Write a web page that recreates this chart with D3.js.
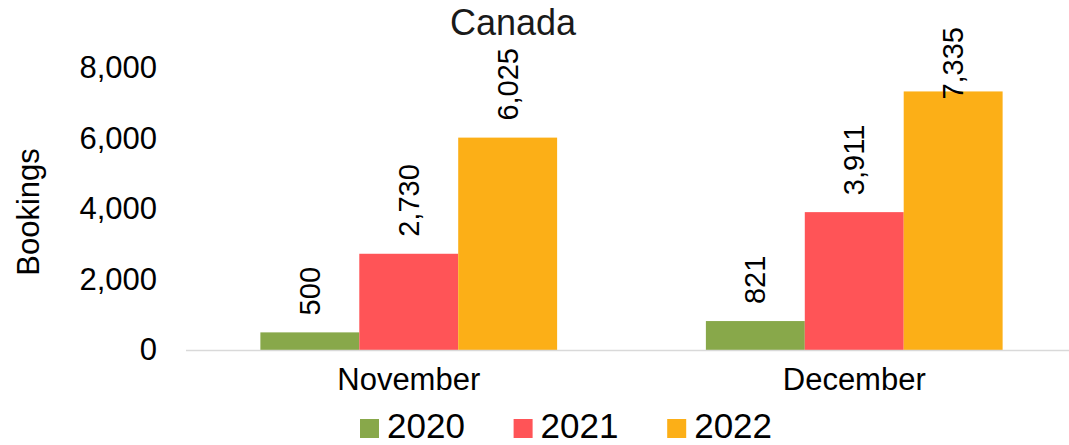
<!DOCTYPE html>
<html>
<head>
<meta charset="utf-8">
<script src="https://cdn.jsdelivr.net/npm/d3@7"></script>
<style>
  body { margin: 0; background: #fff; }
  svg { display: block; font-family: "Liberation Sans", Arial, sans-serif; }
</style>
</head>
<body>
<div id="chart"></div>
<script>
"use strict";

// Data
// ----

var months = ["November", "December"];
var years  = ["2020", "2021", "2022"];
var bookings2020 = [500, 821];
var bookings2021 = [2730, 3911];
var bookings2022 = [6025, 7335];
var yTicks = [0, 2000, 4000, 6000, 8000];
var colors = ["#88A84A", "#FF5457", "#FCAF17"];

var series = [bookings2020, bookings2021, bookings2022];


// Box sizing

var W = 1069, H = 445;
var plotLeft = 186, plotRight = 1077, plotTop = 68, plotBottom = 350, labelTop = 27;

var svg = d3.select("#chart").append("svg")
    .attr("width", W)
    .attr("height", H);


// Scales

var x0 = d3.scaleBand().domain(months).range([plotLeft, plotRight]);
var x1 = d3.scaleBand().domain(years).range([0, x0.bandwidth()]).paddingOuter(0.752);
var y  = d3.scaleLinear().domain([0, 8000]).range([plotBottom, plotTop]);


// Title

svg.append("text")
    .attr("x", 513)
    .attr("y", 35)
    .attr("text-anchor", "middle")
    .style("font-size", "36px")
    .style("fill", "#1a1a1a")
    .text("Canada");


// Y axis

var yAxis = svg.append("g")
    .attr("transform", "translate(" + plotLeft + ",0)")
    .call(d3.axisLeft(y).tickValues(yTicks).tickSize(0).tickPadding(29)
      .tickFormat(d3.format(",")));
yAxis.select(".domain").remove();
yAxis.selectAll("text")
    .style("font-size", "31px")
    .style("fill", "#000")
    .style("font-family", "'Liberation Sans', Arial, sans-serif");

svg.append("text")
    .attr("transform", "translate(28," + ((plotTop + plotBottom) / 2 + 3) + ") rotate(-90)")
    .attr("text-anchor", "middle")
    .attr("dominant-baseline", "central")
    .style("font-size", "31px")
    .text("Bookings");


// Bars

var groups = svg.selectAll(".month")
    .data(months)
    .enter().append("g")
    .attr("transform", function(d) { return "translate(" + x0(d) + ",0)"; });

groups.each(function(m, i) {
  var g = d3.select(this);
  years.forEach(function(yr, k) {
    var v = series[k][i];
    g.append("rect")
        .attr("x", x1(yr))
        .attr("y", y(v))
        .attr("width", x1.bandwidth())
        .attr("height", plotBottom - y(v))
        .style("fill", colors[k]);
  });
});


// X axis line

svg.append("line")
    .attr("x1", plotLeft).attr("x2", W)
    .attr("y1", plotBottom + 0.5).attr("y2", plotBottom + 0.5)
    .style("stroke", "#d9d9d9")
    .style("stroke-width", 1.5);

svg.selectAll(".cat")
    .data(months)
    .enter().append("text")
    .attr("x", function(d) { return x0(d) + x0.bandwidth() / 2; })
    .attr("y", 390)
    .attr("text-anchor", "middle")
    .style("font-size", "31px")
    .text(function(d) { return d; });


// Value labels

groups.each(function(m, i) {
  var g = d3.select(this);
  years.forEach(function(yr, k) {
    var v = series[k][i];
    var cx = x1(yr) + x1.bandwidth() / 2;
    var t = g.append("text")
        .attr("text-anchor", "start")
        .attr("dominant-baseline", "central")
        .style("font-size", "29px")
        .text(d3.format(",")(v));
    var len = t.node().getComputedTextLength();
    var ys = Math.max(y(v) - 17, labelTop + len);
    t.attr("transform", "translate(" + cx + "," + ys + ") rotate(-90)");
  });
});


// Legend

var legend = svg.append("g");
years.forEach(function(yr, k) {
  var lx = 360 + k * 153.6;
  legend.append("rect")
      .attr("x", lx).attr("y", 419)
      .attr("width", 19).attr("height", 19)
      .style("fill", colors[k]);
  legend.append("text")
      .attr("x", lx + 27).attr("y", 438)
      .style("font-size", "35px")
      .text(yr);
});

</script>
</body>
</html>
